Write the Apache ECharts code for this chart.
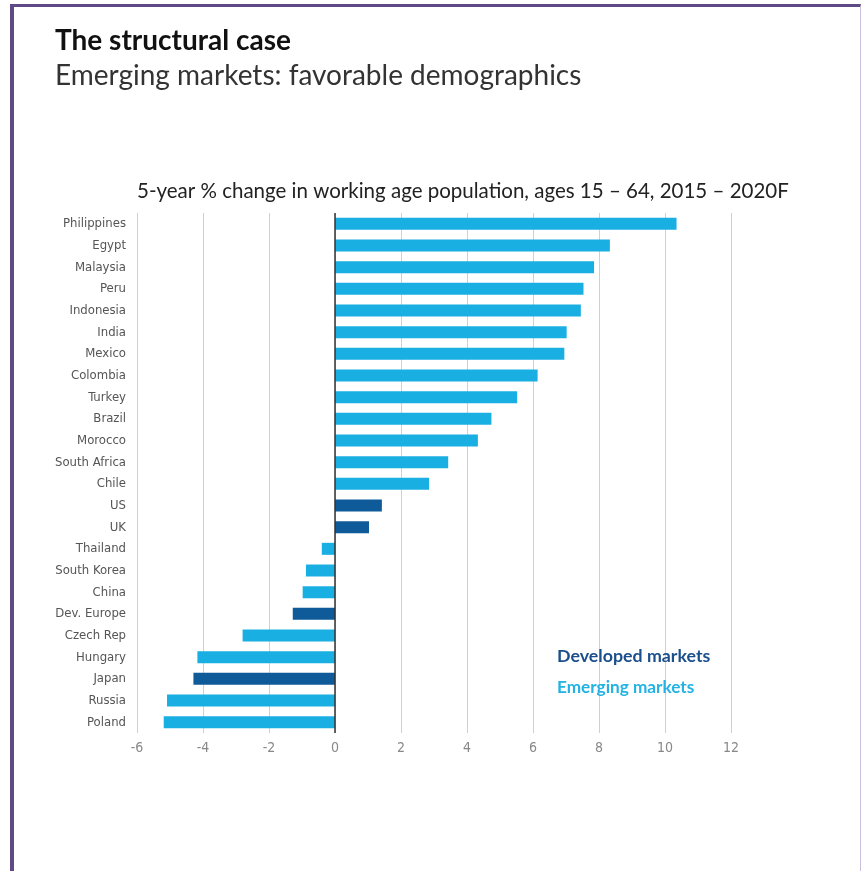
<!DOCTYPE html>
<html>
<head>
<meta charset="utf-8">
<script src="https://cdn.jsdelivr.net/npm/echarts@6/dist/echarts.min.js"></script>
<style>
html,body{margin:0;padding:0;background:#fff;}
#frame{position:absolute;left:10px;top:4px;width:851px;height:880px;border-left:4px solid #5F4A85;border-top:3px solid #5F4A85;border-right:1px solid #C9BEDB;box-sizing:border-box;}
#chart{position:absolute;left:0;top:0;width:861px;height:871px;}
</style>
</head>
<body>
<div id="frame"></div>
<div id="chart"></div>
<script>
const categories = ["Philippines","Egypt","Malaysia","Peru","Indonesia","India","Mexico","Colombia","Turkey","Brazil","Morocco","South Africa","Chile","US","UK","Thailand","South Korea","China","Dev. Europe","Czech Rep","Hungary","Japan","Russia","Poland"];
const values = [10.35,8.33,7.85,7.53,7.45,7.02,6.95,6.14,5.52,4.74,4.33,3.43,2.85,1.42,1.03,-0.40,-0.88,-0.98,-1.28,-2.80,-4.17,-4.29,-5.09,-5.19];
const groups = ["E","E","E","E","E","E","E","E","E","E","E","E","E","D","D","E","E","E","D","E","E","D","E","E"];
const tickMin = -6, tickMax = 12, tickStep = 2;
const groupColors = {E:"#1AAFE2", D:"#0F5A99"};
const narrow = "'Liberation Sans Narrow', 'DejaVu Sans Condensed', 'Roboto Condensed', Lato, sans-serif";

const chart = echarts.init(document.getElementById('chart'), null, {renderer:'canvas'});
chart.setOption({
  backgroundColor: 'transparent',
  animation: false,
  title: [
    {text:'The structural case', left:50, top:22, textStyle:{fontFamily:'Lato', fontWeight:'bold', fontSize:28, color:'#111'}},
    {text:'Emerging markets: favorable demographics', left:50, top:57, textStyle:{fontFamily:'Lato', fontWeight:'normal', fontSize:28, color:'#333'}},
    {text:'5-year % change in working age population, ages 15 – 64, 2015 – 2020F', left:132, top:176, textStyle:{fontFamily:'Lato', fontWeight:'normal', fontSize:20.5, color:'#222'}},
    {text:'Developed markets', left:552, top:642, textStyle:{fontFamily:'Lato', fontWeight:'bold', fontSize:17.8, color:'#1B4F8C'}},
    {text:'Emerging markets', left:552, top:674, textStyle:{fontFamily:'Lato', fontWeight:'bold', fontSize:17.2, color:'#22B2E3'}}
  ],
  grid: {left:137, right:130, top:213, bottom:138, containLabel:false},
  xAxis: {
    type:'value', min:tickMin, max:tickMax, interval:tickStep,
    axisLine:{show:false}, axisTick:{show:false},
    axisLabel:{color:'#888', fontFamily:narrow, fontSize:14, margin:8},
    splitLine:{show:true, lineStyle:{color:'#D0D0D0', width:1}}
  },
  yAxis: {
    type:'category', data:categories, inverse:true,
    axisLine:{show:false}, axisTick:{show:false},
    axisLabel:{color:'#555', fontFamily:narrow, fontSize:13, margin:11}
  },
  series: [{
    type:'bar',
    data: values.map((v,i)=>({value:v, itemStyle:{color:groupColors[groups[i]]}})),
    barWidth:12,
    markLine:{silent:true, symbol:'none', label:{show:false},
      lineStyle:{color:'#333', width:1.5, type:'solid'},
      data:[{xAxis:0}]}
  }]
});
</script>
</body>
</html>
